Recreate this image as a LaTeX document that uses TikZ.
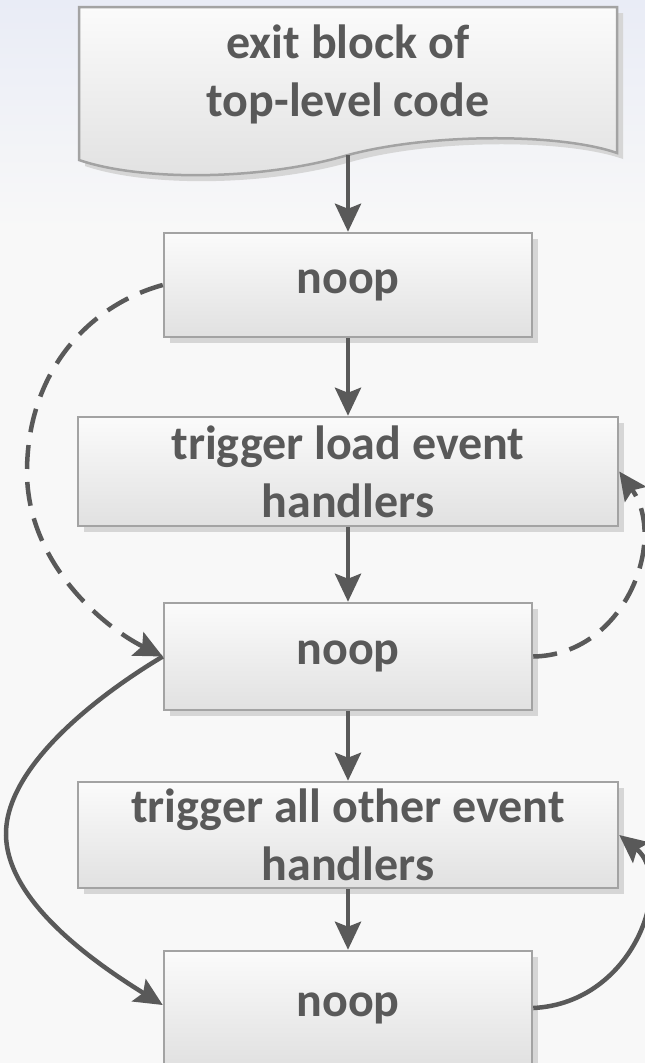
\documentclass[tikz,border=0pt]{standalone}
\usepackage{fontspec}
\setmainfont{Carlito}
\usetikzlibrary{arrows.meta,shadows}
\definecolor{ink}{HTML}{595959}
\definecolor{edgecol}{HTML}{A3A3A3}
\definecolor{shadeA}{HTML}{FBFBFB}
\definecolor{shadeB}{HTML}{E1E1E1}
\definecolor{shd}{HTML}{D6D6D6}
\definecolor{bg}{HTML}{F8F8F8}
\definecolor{bgtop}{HTML}{E9ECF6}
\begin{document}
\begin{tikzpicture}[x=1pt,y=-1pt,
  boxtext/.style={text=ink, font=\bfseries\fontsize{48}{58}\selectfont, align=center},
  stepbox/.style={boxtext, draw=edgecol, line width=2.5pt, top color=shadeA, bottom color=shadeB, inner sep=0pt,
    drop shadow={shadow xshift=6pt, shadow yshift=-6pt, fill=shd, opacity=1}},
  narrow/.style={stepbox, minimum width=368pt},
  wide/.style={stepbox, minimum width=540pt},
  flow/.style={draw=ink, line width=4.5pt, -{Stealth[length=28pt,width=26pt,inset=5pt]}},
  dashflow/.style={flow, dash pattern=on 24pt off 13pt}
]
\useasboundingbox (0,0) rectangle (645,1063);
\fill[bg] (0,0) rectangle (645,1063);
\shade[top color=bgtop, bottom color=bg] (0,0) rectangle (645,230);

% document shape (shadow, then body)
\begin{scope}[shift={(6,6)}]
\fill[shd] (79,7) -- (617,7) -- (617,153) .. controls (560,133) and (430,133) .. (348,155)
  .. controls (260,181) and (140,181) .. (79,160) -- cycle;
\end{scope}
\path[draw=edgecol, line width=2.5pt, top color=shadeA, bottom color=shadeB]
  (79,7) -- (617,7) -- (617,153) .. controls (560,133) and (430,133) .. (348,155)
  .. controls (260,181) and (140,181) .. (79,160) -- cycle;
\node[boxtext] (doc) at (348,74) {exit block of\\top-level code};
\coordinate (docb) at (348,155);

\node[narrow, minimum height=104pt] (noop1) at (348,285) {noop};
\node[wide, minimum height=109pt] (load) at (348,471.5) {trigger load event\\handlers};
\node[narrow, minimum height=107pt] (noop2) at (348,656.5) {noop};
\node[wide, minimum height=106pt] (all) at (348,835) {trigger all other event\\handlers};
\node[narrow, minimum height=114pt] (noop3) at (348,1008) {noop};

\draw[flow] (docb) -- (noop1.north);
\draw[flow] (noop1) -- (load);
\draw[flow] (load) -- (noop2);
\draw[flow] (noop2) -- (all);
\draw[flow] (all) -- (noop3.north);

\coordinate (la) at (27,470);
\coordinate (lb) at (6,835);
\draw[dashflow] (noop1.west) .. controls (90,305) and (28,370) .. (la)
  .. controls (26,560) and (100,625) .. (noop2.west);
\draw[dashflow] (noop2.east) .. controls (625,655) and (668,540) .. (load.east);
\draw[flow] (noop2.west) .. controls (90,700) and (5,770) .. (lb)
  .. controls (7,900) and (90,960) .. ([yshift=3pt]noop3.west);
\draw[flow] (noop3.east) .. controls (635,1003) and (675,880) .. (all.east);
\end{tikzpicture}
\end{document}
